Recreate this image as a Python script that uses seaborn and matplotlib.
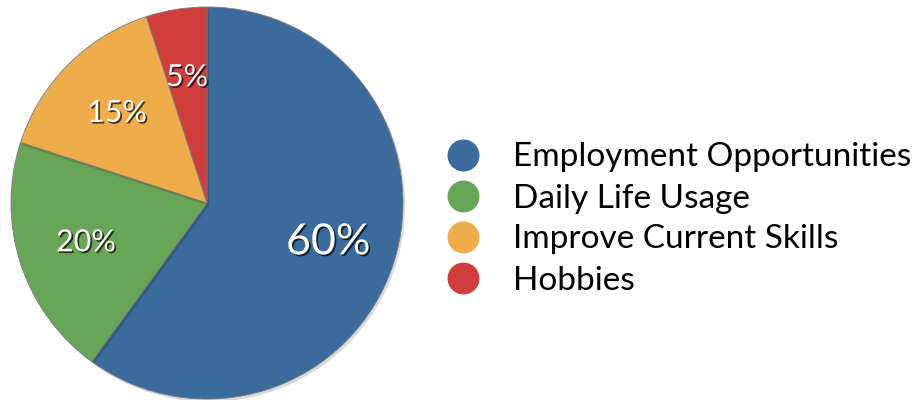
import matplotlib
matplotlib.use("Agg")
import matplotlib.pyplot as plt
import matplotlib.patheffects as pe
from matplotlib.lines import Line2D
import seaborn as sns

# Reasons for learning, share of respondents (%)
categories = ["Employment Opportunities", "Daily Life Usage",
              "Improve Current Skills", "Hobbies"]
shares = [60, 20, 15, 5]
colors = ["#3b6a9d", "#69a556", "#eeac4a", "#cf3e3b"]

sns.set_theme(style="white")
plt.rcParams["font.family"] = ["Lato", "DejaVu Sans"]

fig = plt.figure(figsize=(9.2, 4.0), dpi=100)
fig.patch.set_facecolor("white")

# Pie axes: centre near (207, 203) px, radius ~196 px
ax = fig.add_axes([(207 - 197) / 920, (197 - 197) / 400, 394 / 920, 394 / 400])
wedges, texts, autotexts = ax.pie(
    shares,
    colors=colors,
    startangle=90,
    counterclock=False,
    autopct=lambda p: f"{p:.0f}%",
    pctdistance=0.65,
    radius=1.0,
    wedgeprops=dict(edgecolor="#7a7a7a", linewidth=0.6),
)
for w in wedges:
    w.set_path_effects([pe.SimplePatchShadow(offset=(1.5, -2), shadow_rgbFace="#000000", alpha=0.15),
                        pe.Normal()])

label_sizes = [31, 22, 22, 22]
for t, s in zip(autotexts, label_sizes):
    t.set_color("white")
    t.set_fontsize(s)
    t.set_path_effects([pe.withSimplePatchShadow(offset=(1.2, -1.2), shadow_rgbFace="#000000", alpha=0.7)])

ax.set_xlim(-1.005, 1.005)
ax.set_ylim(-1.005, 1.005)
ax.set_aspect("equal")
ax.axis("off")

handles = [Line2D([0], [0], marker="o", linestyle="none", markersize=22,
                  markerfacecolor=c, markeredgecolor=c) for c in colors]
leg = fig.legend(handles, categories, loc="center left",
                 bbox_to_anchor=(430 / 920, 1 - 219 / 400),
                 frameon=False, fontsize=24, labelspacing=0.33,
                 handletextpad=0.9, borderaxespad=0, handlelength=1.2)
for txt in leg.get_texts():
    txt.set_color("black")

fig.savefig("out.png", dpi=100, facecolor="white")
